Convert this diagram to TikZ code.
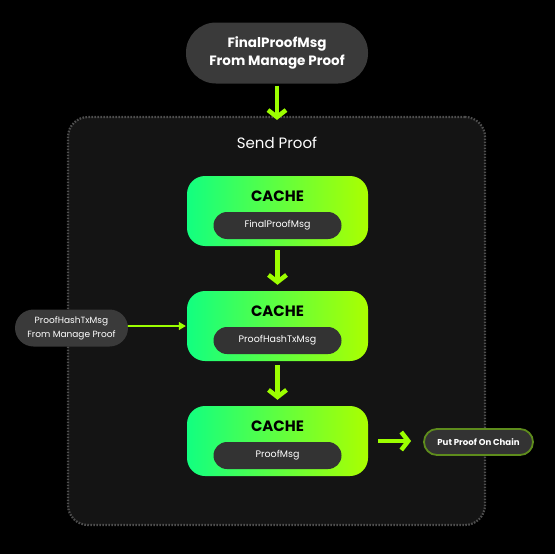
\documentclass[tikz,border=0pt]{standalone}
\usepackage{fontspec}
\setmainfont{Poppins}
\usetikzlibrary{arrows.meta}
\usetikzlibrary{positioning}

\definecolor{limeline}{HTML}{9CFF00}
\definecolor{cacheleft}{HTML}{12FF80}
\definecolor{cachemid}{HTML}{55FF25}
\definecolor{cacheright}{HTML}{ABFF00}
\definecolor{pillgray}{HTML}{3A3A3A}
\definecolor{innergray}{HTML}{333333}
\definecolor{panelgray}{HTML}{141414}
\definecolor{dotgray}{HTML}{4E4E4E}
\definecolor{chainrim}{HTML}{5E8C1C}

\begin{document}
\begin{tikzpicture}[x=1pt, y=-1pt, line cap=round, line join=round, >=Triangle,
  pill/.style={fill=pillgray, text=white, align=center, inner sep=0pt},
  cachebox/.style={rounded corners=18pt, left color=cacheleft, middle color=cachemid,
    right color=cacheright, minimum width=181pt, minimum height=70pt, inner sep=0pt},
  cachetitle/.style={font=\fontsize{15}{18}\selectfont\bfseries, text=black},
  msgpill/.style={fill=innergray, text=white, rounded corners=13.5pt,
    minimum width=128pt, minimum height=27pt, inner sep=0pt,
    font=\fontsize{9.5}{11}\selectfont},
  bigarrow/.style={draw=limeline, line width=4.5pt, line cap=butt,
    -{Straight Barb[length=7pt, width=18pt]}},
  thinarrow/.style={draw=limeline, line width=1.3pt, -{Triangle[length=7pt, width=8pt]}}]

\useasboundingbox (0,0) rectangle (555,554);
\fill[black] (0,0) rectangle (555,554);

% panel
\node[fill=panelgray, draw=dotgray, line width=2.2pt, line cap=butt,
  dash pattern=on 1.6pt off 1.4pt,
  rounded corners=20pt, minimum width=417pt, minimum height=408pt, inner sep=0pt]
  (panel) at (276.5,321) {};
\node[text=white, font=\fontsize{15}{18}\selectfont] (sendtitle) at (277,143) {Send Proof};

% input from manage proof
\node[pill, rounded corners=30pt, minimum width=182pt, minimum height=61pt,
  font=\fontsize{13.5}{18}\selectfont\bfseries] (finalin) at (277,53)
  {FinalProofMsg\\From Manage Proof};

% caches
\node[cachebox] (cacheA) at (277.5,211) {};
\node[cachebox] (cacheB) at (277.5,326) {};
\node[cachebox] (cacheC) at (277.5,441) {};

\node[cachetitle] at ([yshift=15pt]cacheA.center) {CACHE};
\node[cachetitle] at ([yshift=15pt]cacheB.center) {CACHE};
\node[cachetitle] at ([yshift=15pt]cacheC.center) {CACHE};

\node[msgpill] (msgA) at ([yshift=-14.5pt]cacheA.center) {FinalProofMsg};
\node[msgpill] (msgB) at ([yshift=-14.5pt]cacheB.center) {ProofHashTxMsg};
\node[msgpill] (msgC) at ([yshift=-14.5pt]cacheC.center) {ProofMsg};

% side input and output
\node[pill, rounded corners=18.5pt, minimum width=113pt, minimum height=37pt,
  font=\fontsize{9}{14}\selectfont] (hashin) at (71.5,328)
  {ProofHashTxMsg\\From Manage Proof};
\node[pill, fill=innergray, draw=chainrim, line width=1.8pt, rounded corners=13pt,
  minimum width=109pt, minimum height=26pt,
  font=\fontsize{8.6}{10}\selectfont\bfseries] (chain) at (478.5,442)
  {Put Proof On Chain};

% arrows
\draw[bigarrow, shorten <=2pt, shorten >=-4pt] (finalin.south) -- (finalin |- panel.north);
\draw[bigarrow, shorten <=4pt, shorten >=6pt] (cacheA) -- (cacheB);
\draw[bigarrow, shorten <=4pt, shorten >=6pt] (cacheB) -- (cacheC);
\draw[bigarrow, shorten <=10pt, shorten >=12pt] (cacheC.east) -- (cacheC.east -| chain.west);
\draw[thinarrow, shorten >=1pt] (hashin.east |- cacheB.west) -- (cacheB.west);

\end{tikzpicture}
\end{document}
